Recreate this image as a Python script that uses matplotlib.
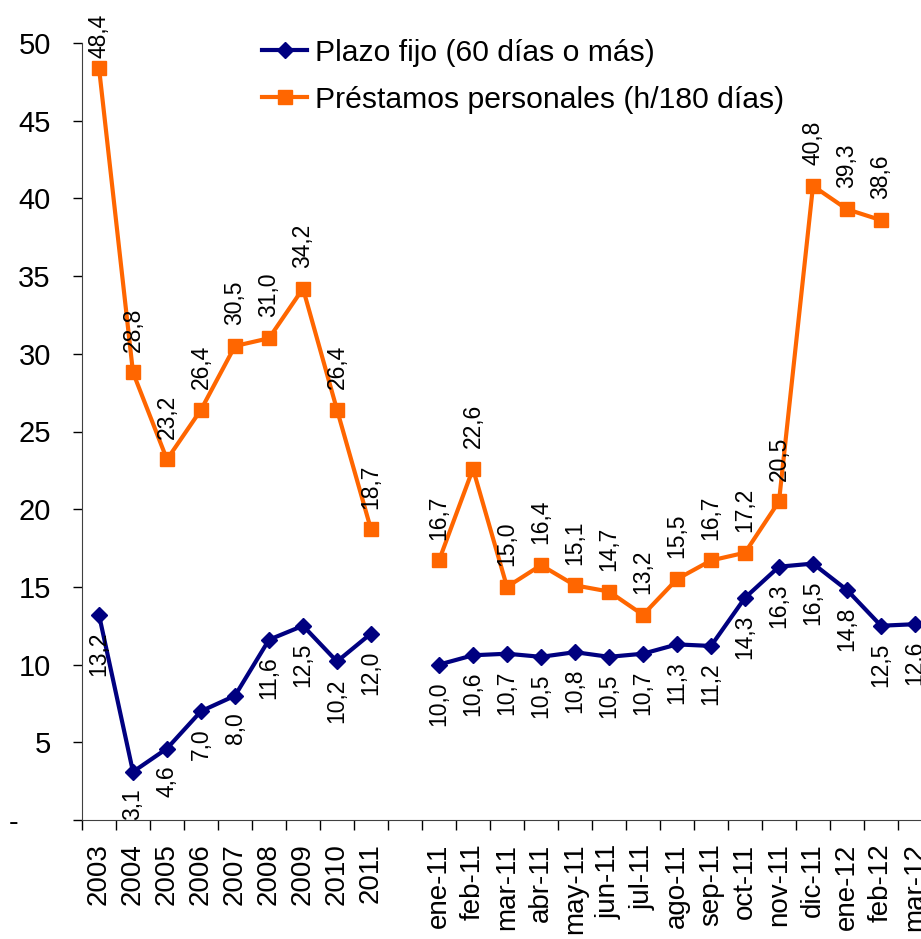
import numpy as np
import matplotlib.pyplot as plt

# datos: tasas (%), años 2003-2011 y meses ene-11 a mar-12
categorias = ['2003', '2004', '2005', '2006', '2007', '2008', '2009', '2010', '2011', '',
              'ene-11', 'feb-11', 'mar-11', 'abr-11', 'may-11', 'jun-11', 'jul-11',
              'ago-11', 'sep-11', 'oct-11', 'nov-11', 'dic-11', 'ene-12', 'feb-12', 'mar-12']
plazo_fijo = [13.2, 3.1, 4.6, 7.0, 8.0, 11.6, 12.5, 10.2, 12.0, np.nan,
              10.0, 10.6, 10.7, 10.5, 10.8, 10.5, 10.7, 11.3, 11.2, 14.3, 16.3, 16.5,
              14.8, 12.5, 12.6]
prestamos = [48.4, 28.8, 23.2, 26.4, 30.5, 31.0, 34.2, 26.4, 18.7, np.nan,
             16.7, 22.6, 15.0, 16.4, 15.1, 14.7, 13.2, 15.5, 16.7, 17.2, 20.5, 40.8,
             39.3, 38.6, np.nan]

plt.rcParams['font.family'] = ['Liberation Sans', 'DejaVu Sans']

fig = plt.figure(figsize=(9.21, 9.39), dpi=100)
ax = fig.add_axes([82 / 921, 119 / 939, 850 / 921, 777 / 939])

x = np.arange(len(categorias))
ax.plot(x, plazo_fijo, color='#000080', lw=3, marker='D', ms=8,
        label='Plazo fijo (60 días o más)')
ax.plot(x, prestamos, color='#FF6600', lw=3, marker='s', ms=10,
        label='Préstamos personales (h/180 días)')

# etiquetas de valores (plazo fijo debajo, préstamos arriba)
for i in range(len(x)):
  if not np.isnan(plazo_fijo[i]):
    ax.annotate(f'{plazo_fijo[i]:.1f}'.replace('.', ','), (x[i], plazo_fijo[i]),
                xytext=(0, -12), textcoords='offset points', rotation=90,
                ha='center', va='top', fontsize=16.5)
  if not np.isnan(prestamos[i]):
    desp = 15 if prestamos[i] < 45 else 7
    ax.annotate(f'{prestamos[i]:.1f}'.replace('.', ','), (x[i], prestamos[i]),
                xytext=(0, desp), textcoords='offset points', rotation=90,
                ha='center', va='bottom', fontsize=16.5)

ax.set_xlim(-0.5, len(categorias) - 0.5)
ax.set_ylim(0, 50)
ax.set_yticks(range(0, 51, 5))
ax.set_yticklabels(['-    '] + [str(v) for v in range(5, 51, 5)])
ax.tick_params(axis='y', direction='out', length=6.5, width=1, pad=16, labelsize=21)

ax.set_xticks(x)
ax.set_xticklabels(categorias, rotation=90)
ax.set_xticks(np.arange(-0.5, len(categorias), 1), minor=True)
ax.tick_params(axis='x', which='major', length=0, pad=17, labelsize=20)
ax.tick_params(axis='x', which='minor', direction='out', length=7, width=1)

for lado in ['top', 'right']:
  ax.spines[lado].set_visible(False)
for lado in ['left', 'bottom']:
  ax.spines[lado].set_color('#404040')

ax.legend(loc='upper left', bbox_to_anchor=(153 / 850, 1.04), frameon=False,
          fontsize=21.7, handlelength=1.5, handletextpad=0.25, labelspacing=0.62)

plt.savefig('out.png', dpi=100)
